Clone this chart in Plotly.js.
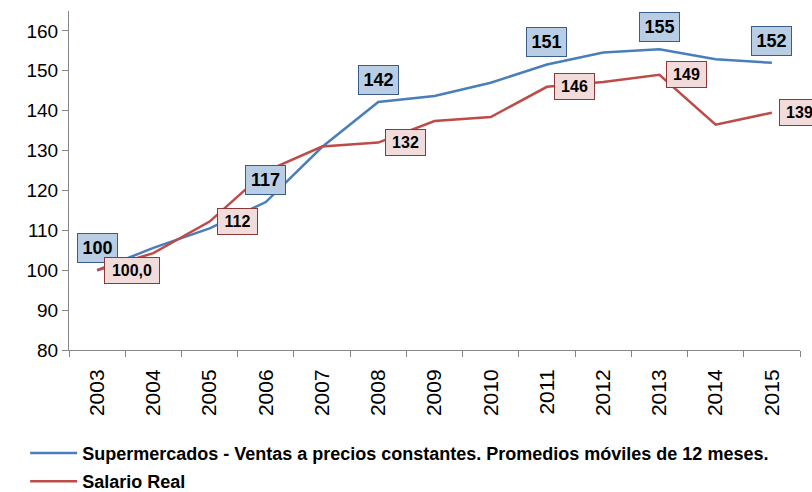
<!DOCTYPE html>
<html><head><meta charset="utf-8">
<script src="https://cdn.plot.ly/plotly-3.0.1.min.js"></script>
<style>html,body{margin:0;padding:0;background:#fff;}#chart{width:812px;height:492px;}</style>
</head><body><div id="chart"></div>
<script>
const years = ['2003','2004','2005','2006','2007','2008','2009','2010','2011','2012','2013','2014','2015'];
const supermercados = [100, 105.6, 110.5, 117.1, 130.9, 142.2, 143.7, 147.0, 151.6, 154.6, 155.4, 152.9, 152.0];
const salarioReal   = [100, 104.3, 112.2, 124.8, 131.0, 132.0, 137.4, 138.4, 146.0, 147.2, 149.0, 136.5, 139.5];
const superLabelYears = ['2003','2006','2008','2011','2013','2015'];
const superLabelText  = ['100','117','142','151','155','152'];
const salarioLabelYears = ['2003','2005','2008','2011','2013','2015'];
const salarioLabelText  = ['100,0','112','132','146','149','139'];
const seriesNames = ['Supermercados - Ventas a precios constantes. Promedios móviles de 12 meses.', 'Salario Real'];

const FONT = 'Liberation Sans, Arial, sans-serif';
const blue = '#4A7EBB', red = '#BE4B48';

const traces = [
  {x: years, y: supermercados, type: 'scatter', mode: 'lines', name: seriesNames[0],
   legendgroup: 'a', line: {color: blue, width: 2.5}},
  {x: years, y: salarioReal, type: 'scatter', mode: 'lines', name: seriesNames[1],
   legendgroup: 'b', line: {color: red, width: 2.5}}
];

const annotations = [];
superLabelYears.forEach((yr, i) => {
  const idx = years.indexOf(yr);
  annotations.push({x: idx, y: supermercados[idx], xref: 'x', yref: 'y',
    text: '<b>' + superLabelText[i] + '</b>', showarrow: false,
    xanchor: 'center', yanchor: 'bottom', yshift: 7,
    font: {family: FONT, size: 18, color: '#000'},
    bgcolor: '#B9CDE5', bordercolor: '#385D8A', borderwidth: 1, borderpad: 1,
    width: 37, height: 26});
});
salarioLabelYears.forEach((yr, i) => {
  const idx = years.indexOf(yr);
  const t = salarioLabelText[i];
  annotations.push({x: idx, y: salarioReal[idx], xref: 'x', yref: 'y',
    text: '<b>' + t + '</b>', showarrow: false,
    xanchor: 'left', yanchor: 'middle', xshift: 7,
    font: {family: FONT, size: 16, color: '#000'},
    bgcolor: '#F2DCDB', bordercolor: '#8C3836', borderwidth: 1, borderpad: 1,
    width: t.length > 3 ? 52 : 37, height: 23});
});

const layout = {
  width: 812, height: 492,
  margin: {l: 69, r: 12, t: 11, b: 142, autoexpand: false},
  paper_bgcolor: '#fff', plot_bgcolor: '#fff',
  font: {family: FONT, color: '#000'},
  showlegend: true,
  legend: {orientation: 'v', x: -0.06, xanchor: 'left', y: -0.25, yanchor: 'top',
    traceorder: 'grouped', tracegroupgap: 2, itemwidth: 47,
    font: {family: FONT, size: 18, color: '#000', weight: 'bold'}, bgcolor: 'rgba(0,0,0,0)'},
  xaxis: {type: 'category', tickson: 'boundaries', ticks: 'outside', ticklen: 6, tickcolor: '#868686',
    showline: true, linecolor: '#868686', linewidth: 1, showgrid: false, zeroline: false,
    ticklabelstandoff: 10,
    tickangle: -90, tickfont: {family: FONT, size: 21, color: '#000'}, range: [-0.5, 12.5]},
  yaxis: {range: [80, 165], tickvals: [80, 90, 100, 110, 120, 130, 140, 150, 160],
    ticks: 'outside', ticklen: 6, tickcolor: '#868686',
    showline: true, linecolor: '#868686', linewidth: 1, showgrid: false, zeroline: false,
    tickfont: {family: FONT, size: 19, color: '#000'}},
  annotations: annotations
};

Plotly.newPlot('chart', traces, layout, {displayModeBar: false});
</script>
</body></html>
